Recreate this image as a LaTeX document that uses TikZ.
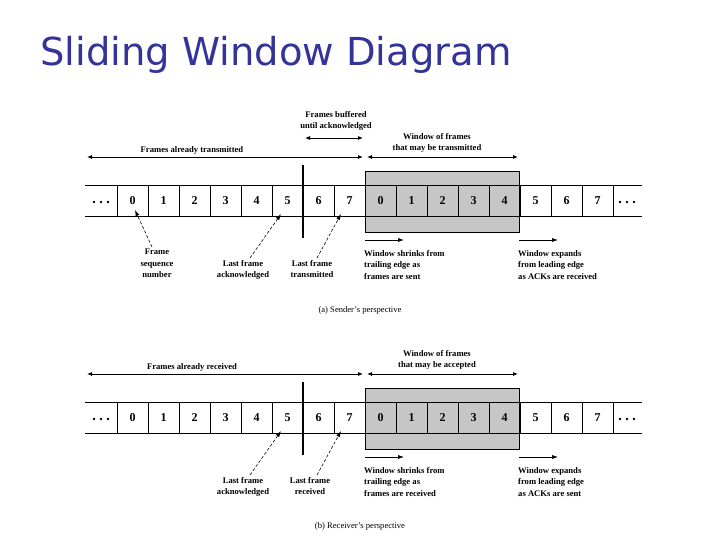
\documentclass[tikz,border=0pt]{standalone}
\usepackage{fontspec}
\setmainfont{Liberation Serif}
\newfontfamily\titlefont{DejaVu Sans}
\usetikzlibrary{arrows.meta}
\definecolor{titleblue}{RGB}{51,51,153}
\begin{document}
\begin{tikzpicture}[x=1pt,y=-1pt,
  lab/.style={font=\bfseries\fontsize{8.6}{11.5}\selectfont,align=center,inner sep=0pt},
  labl/.style={font=\bfseries\fontsize{8.6}{11.5}\selectfont,align=left,inner sep=0pt,anchor=north west},
  num/.style={font=\bfseries\fontsize{12}{13}\selectfont,inner sep=0pt},
  dim/.style={{Latex[length=5pt,width=4pt]}-{Latex[length=5pt,width=4pt]},thick},
  ptr/.style={-{Latex[length=6pt,width=4pt]},densely dashed,semithick},
  mv/.style={-{Latex[length=6pt,width=4pt]},semithick}]
\useasboundingbox (0,0) rectangle (720,540);
\node[anchor=west,text=titleblue,font=\titlefont\fontsize{38.5}{42}\selectfont,inner sep=0pt] (title) at (40,55) {Sliding Window Diagram};

\foreach \dy/\p in {0/s,217/r}{
  \begin{scope}[yshift=-\dy]
  \fill[gray!45] (365,171) rectangle (519,232);
  \draw[thick] (365,171) rectangle (519,232);
  \draw[thick] (85,185) -- (642,185);
  \draw[thick] (85,216) -- (642,216);
  \foreach \k in {0,...,16}{\draw[semithick] ({117+31*\k},185) -- ({117+31*\k},216);}
  \foreach \n [count=\i from 0] in {0,1,2,3,4,5,6,7,0,1,2,3,4,5,6,7}{
    \node[num] (\p c\i) at ({132.5+31*\i},201) {\n};}
  \foreach \xx in {94,101,108,620,627,634}{\fill (\xx,202) circle (1.4);}
  \draw[line width=2pt] (303,165) -- (303,238);
  \end{scope}}

% sender labels
\coordinate (a1) at (87,157); \coordinate (a2) at (363,157);
\coordinate (a3) at (367,157); \coordinate (a4) at (518,157);
\draw[dim] (a1) -- (a2); \draw[dim] (a3) -- (a4);
\node[lab] (fat) at (192,150) {Frames already transmitted};
\node[lab] (wft) at (437,143) {Window of frames\\that may be transmitted};
\coordinate (b1) at (305,138); \coordinate (b2) at (363,138);
\draw[dim] (b1) -- (b2);
\node[lab] (fb) at (336,121) {Frames buffered\\until acknowledged};
\node[lab,anchor=north] (fsn) at (157,249) {Frame\\sequence\\number};
\node[lab,anchor=north] (lfa) at (243,260) {Last frame\\acknowledged};
\node[lab,anchor=north] (lft) at (312,260) {Last frame\\transmitted};
\coordinate (p0) at (135,210); \coordinate (p5) at (281,214); \coordinate (p7) at (341,214);
\draw[ptr] (152,247) -- (p0);
\draw[ptr] (250,258) -- (p5);
\draw[ptr] (317,258) -- (p7);
\coordinate (s1) at (365,240); \coordinate (s2) at (404,240);
\coordinate (e1) at (519,240); \coordinate (e2) at (558,240);
\draw[mv] (s1) -- (s2); \draw[mv] (e1) -- (e2);
\node[labl] (ws) at (364,250) {Window shrinks from\\trailing edge as\\frames are sent};
\node[labl] (we) at (518,250) {Window expands\\from leading edge\\as ACKs are received};
\node[lab] (capa) at (360,310) {\mdseries(a) Sender's perspective};

% receiver labels
\coordinate (c1) at (87,374); \coordinate (c2) at (363,374);
\coordinate (c3) at (367,374); \coordinate (c4) at (518,374);
\draw[dim] (c1) -- (c2); \draw[dim] (c3) -- (c4);
\node[lab] (far) at (192,367) {Frames already received};
\node[lab] (wfa) at (437,360) {Window of frames\\that may be accepted};
\node[lab,anchor=north] (rla) at (243,477) {Last frame\\acknowledged};
\node[lab,anchor=north] (rlr) at (310,477) {Last frame\\received};
\coordinate (q5) at (281,431); \coordinate (q7) at (341,431);
\draw[ptr] (250,475) -- (q5);
\draw[ptr] (317,475) -- (q7);
\coordinate (t1) at (365,457); \coordinate (t2) at (404,457);
\coordinate (u1) at (519,457); \coordinate (u2) at (558,457);
\draw[mv] (t1) -- (t2); \draw[mv] (u1) -- (u2);
\node[labl] (rws) at (364,467) {Window shrinks from\\trailing edge as\\frames are received};
\node[labl] (rwe) at (518,467) {Window expands\\from leading edge\\as ACKs are sent};
\node[lab] (capb) at (360,526) {\mdseries(b) Receiver's perspective};
\end{tikzpicture}
\end{document}
